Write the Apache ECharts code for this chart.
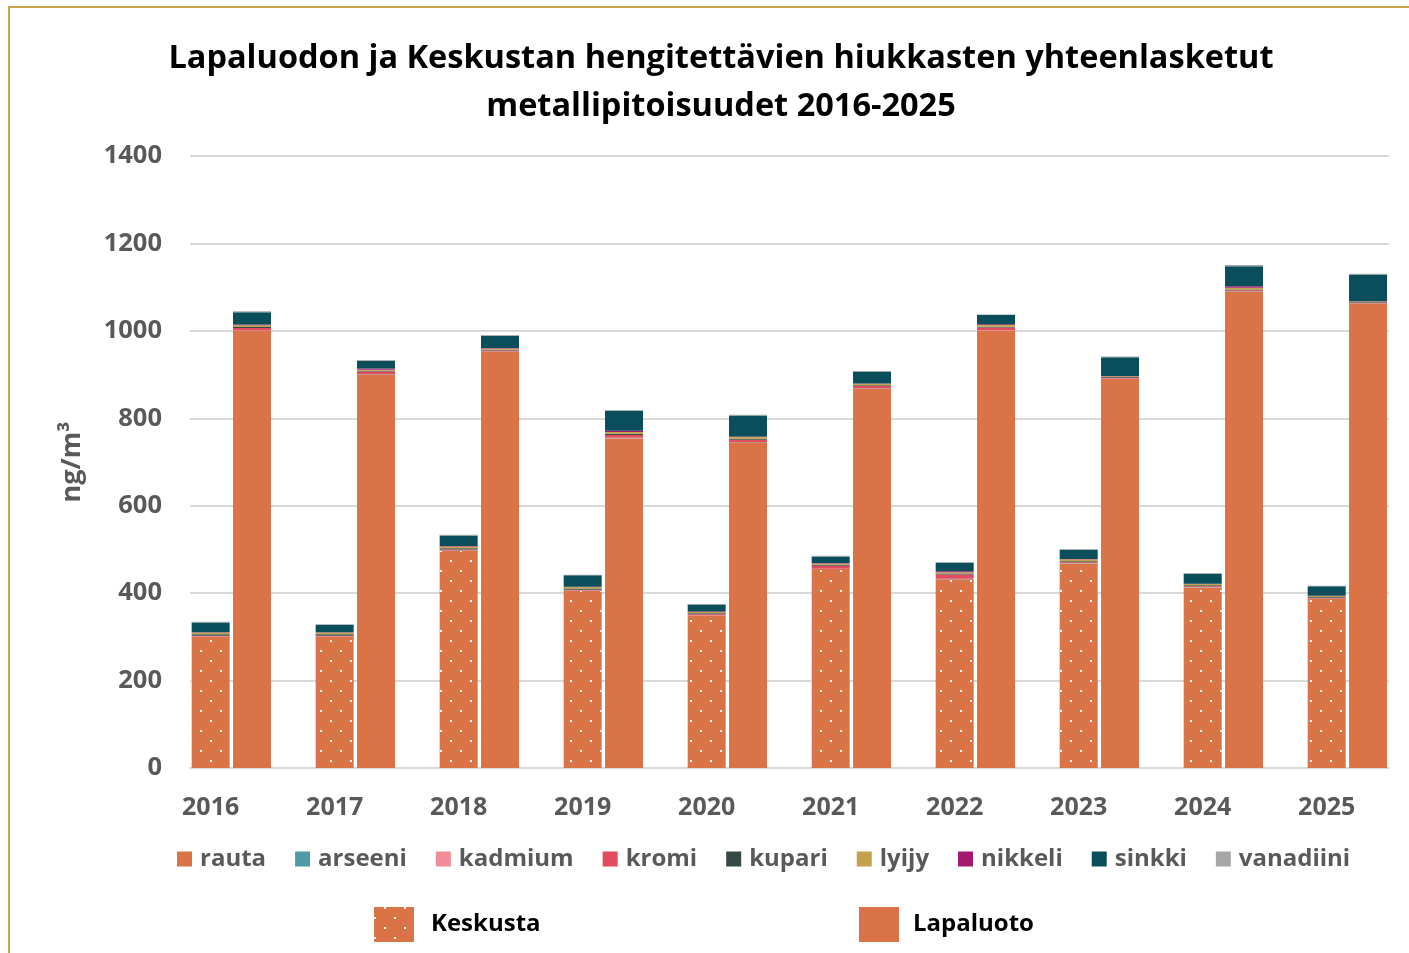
<!DOCTYPE html>
<html><head><meta charset="utf-8">
<script src="https://cdn.jsdelivr.net/npm/echarts@6/dist/echarts.min.js"></script>
<style>html,body{margin:0;padding:0;background:#fff;}#c{width:1409px;height:953px;}</style>
</head><body><div id="c"></div>
<script>
const years = ['2016','2017','2018','2019','2020','2021','2022','2023','2024','2025'];
const metals = ['rauta','arseeni','kadmium','kromi','kupari','lyijy','nikkeli','sinkki','vanadiini'];
const colors = ['#DA7447','#4E9BA7','#F28C98','#E34B5F','#344A46','#C4A24C','#A4196F','#0B4E5B','#A6A6A6'];
// Keskusta
const rauta_K     = [300, 300, 497, 405, 348, 455, 432, 468, 413, 387];
const arseeni_K   = [0.5, 0.5, 0.5, 0.5, 0.5, 0.5, 0.5, 0.5, 0.5, 0.5];
const kadmium_K   = [0.3, 0.3, 0.3, 0.3, 0.3, 0.3, 0.3, 0.3, 0.3, 0.3];
const kromi_K     = [2, 2, 2, 2, 3, 7, 10, 2, 2, 1.5];
const kupari_K    = [3, 3, 3, 3, 2, 2, 2, 2, 2, 2];
const lyijy_K     = [4, 4, 4, 3, 3, 3, 3, 5, 3, 2];
const nikkeli_K   = [1, 1, 1, 1, 1, 1, 2, 0.5, 0.5, 0.5];
const sinkki_K    = [22, 17, 24, 26, 16, 15, 20, 21, 23, 22];
const vanadiini_K = [1.5, 1, 1.5, 1.5, 1.5, 1.5, 1.5, 1.5, 1.5, 1];
// Lapaluoto
const rauta_L     = [1000, 900, 952, 754, 745, 868, 1000, 890, 1090, 1062];
const arseeni_L   = [0.5, 0.5, 0.5, 0.5, 0.5, 0.5, 0.5, 0.5, 0.5, 0.5];
const kadmium_L   = [0.3, 0.3, 0.3, 1, 0.5, 0.3, 1, 0.3, 0.3, 0.3];
const kromi_L     = [6, 6, 2, 6, 5, 5, 6, 2, 2, 1];
const kupari_L    = [2, 2, 2, 3, 2, 2, 2, 1.5, 2, 1.5];
const lyijy_L     = [4, 2, 3, 4, 4, 3, 4, 2, 4, 2];
const nikkeli_L   = [2, 3, 1, 3, 1.5, 1, 1.5, 0.5, 3, 0.5];
const sinkki_L    = [28, 18, 28, 46, 48, 27, 21, 43, 46, 61];
const vanadiini_L = [2, 1.5, 1.5, 1.5, 1.5, 1.5, 1.5, 1.5, 3, 2];
const yTicks = [0, 200, 400, 600, 800, 1000, 1200, 1400];

const K = [rauta_K, arseeni_K, kadmium_K, kromi_K, kupari_K, lyijy_K, nikkeli_K, sinkki_K, vanadiini_K];
const L = [rauta_L, arseeni_L, kadmium_L, kromi_L, kupari_L, lyijy_L, nikkeli_L, sinkki_L, vanadiini_L];

const FONT = '"Open Sans"';
const dotDecal = {symbol:'rect', symbolSize:1, color:'#ffffff', dashArrayX:[[2,18],[0,10,2,8]], dashArrayY:[2,8], rotation:0};
const noDecal = {symbol:'rect', symbolSize:1, color:'rgba(0,0,0,0)', dashArrayX:[1,9], dashArrayY:[1,9], rotation:0};

// 29 slots: Keskusta, Lapaluoto, gap per year
const cats = [];
years.forEach((y, i) => { cats.push(y); cats.push(y + '_L'); if (i < years.length - 1) cats.push(y + '_gap'); });

const series = metals.map((m, mi) => {
  const data = [];
  years.forEach((y, i) => {
    if (mi === 0) data.push({value: K[mi][i], itemStyle: {decal: dotDecal}});
    else data.push(K[mi][i]);
    data.push(L[mi][i]);
    if (i < years.length - 1) data.push(null);
  });
  return {name: m, type: 'bar', stack: 'all', barWidth: 38, data: data,
    itemStyle: {color: colors[mi], decal: noDecal}, emphasis: {disabled: true}};
});
series.push({name:'Keskusta', type:'bar', stack:'all', data:[], itemStyle:{color:'#DA7447', decal: dotDecal}});
series.push({name:'Lapaluoto', type:'bar', stack:'all', data:[], itemStyle:{color:'#DA7447', decal: noDecal}});

const chart = echarts.init(document.getElementById('c'), null, {renderer:'canvas'});
chart.setOption({
  animation: false,
  aria: {enabled: true, label: {enabled: false}, decal: {show: true}},
  backgroundColor: '#ffffff',
  graphic: [
    {type:'polyline', shape:{points:[[9,953],[9,7],[1409,7]]}, style:{stroke:'#C8A44E', lineWidth:2, fill:null}},
    {type:'text', x:721, y:59, style:{text:'Lapaluodon ja Keskustan hengitettävien hiukkasten yhteenlasketut', font:'bold 32.5px "Open Sans"', fill:'#000', align:'center', verticalAlign:'middle'}},
    {type:'text', x:721, y:107, style:{text:'metallipitoisuudet 2016-2025', font:'bold 32.5px "Open Sans"', fill:'#000', align:'center', verticalAlign:'middle'}}
  ],
  grid: {left:190, right:20.3, top:156, bottom:185, containLabel:false},
  xAxis: {type:'category', data: cats,
    axisLine:{show:true, lineStyle:{color:'#D9D9D9', width:2}}, axisTick:{show:false},
    axisLabel:{interval:0, margin:27, color:'#595959', fontFamily:FONT, fontWeight:'bold', fontSize:25,
      formatter:(v, i) => (i % 3 === 0 ? v : '')}},
  yAxis: {type:'value', min:yTicks[0], max:yTicks[yTicks.length-1], interval:200,
    name:'ng/m³', nameLocation:'middle', nameGap:104, nameRotate:90,
    nameTextStyle:{color:'#595959', fontFamily:FONT, fontWeight:'bold', fontSize:27},
    axisLine:{show:false}, axisTick:{show:false},
    splitLine:{lineStyle:{color:'#D9D9D9', width:2}},
    axisLabel:{margin:28, color:'#595959', fontFamily:FONT, fontWeight:'bold', fontSize:25.5,
      formatter:(v) => String(v)}},
  legend: [
    {data: metals, left:172, top:842, itemWidth:15, itemHeight:15, itemGap:29, icon:'rect',
      textStyle:{color:'#595959', fontFamily:FONT, fontWeight:'bold', fontSize:24, padding:[0,0,0,3]}, selectedMode:false},
    {data:['Keskusta'], left:369, top:902, itemWidth:40, itemHeight:35, icon:'rect',
      textStyle:{color:'#000', fontFamily:FONT, fontWeight:'bold', fontSize:24, padding:[0,0,0,12]}, selectedMode:false},
    {data:['Lapaluoto'], left:854, top:902, itemWidth:40, itemHeight:35, icon:'rect',
      textStyle:{color:'#000', fontFamily:FONT, fontWeight:'bold', fontSize:24, padding:[0,0,0,9]}, selectedMode:false}
  ],
  series: series
});
</script></body></html>
